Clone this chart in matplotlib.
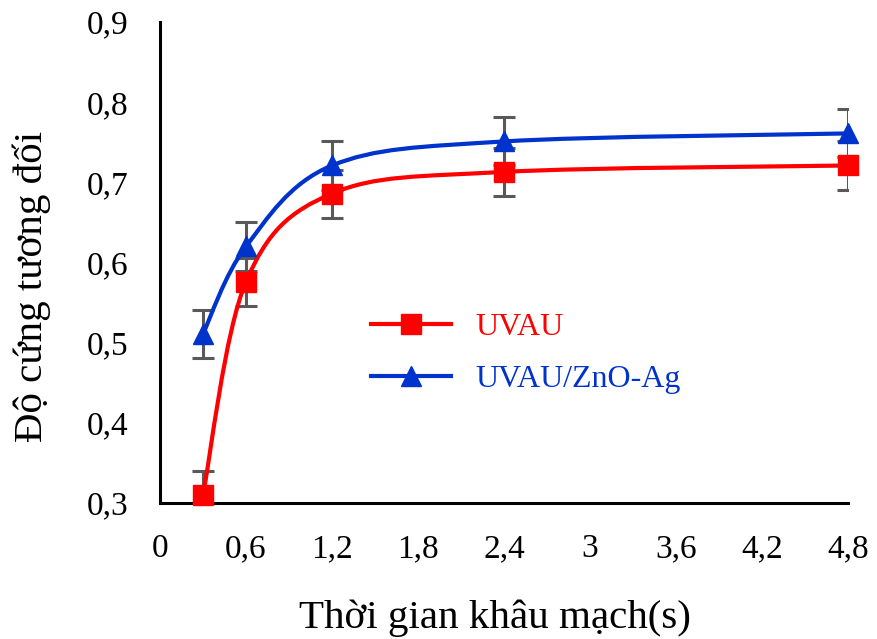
import matplotlib
matplotlib.use("Agg")
import matplotlib.pyplot as plt
from matplotlib.path import Path
from matplotlib.patches import PathPatch
from matplotlib.lines import Line2D
import numpy as np

plt.rcParams['font.family'] = ['Liberation Serif', 'DejaVu Serif']

# Crosslinking time (s) and relative hardness
time_s = [0.3, 0.6, 1.2, 2.4, 4.8]
hard_uvau = [0.31, 0.576, 0.686, 0.713, 0.721]
hard_zno = [0.511, 0.620, 0.721, 0.751, 0.761]
err_uvau = [0.03, 0.03, 0.03, 0.03, 0.03]
err_zno = [0.03, 0.03, 0.03, 0.03, 0.03]

series_names = ["UVAU", "UVAU/ZnO-Ag"]
x_ticks = [0, 0.6, 1.2, 1.8, 2.4, 3.0, 3.6, 4.2, 4.8]
x_tick_labels = ["0", "0,6", "1,2", "1,8", "2,4", "3", "3,6", "4,2", "4,8"]
y_ticks = [0.3, 0.4, 0.5, 0.6, 0.7, 0.8, 0.9]
y_tick_labels = ["0,3", "0,4", "0,5", "0,6", "0,7", "0,8", "0,9"]

RED = "#FF0000"
BLUE = "#0033CC"
ERR = "#595959"


def smooth_path(xs, ys):
    """Catmull-Rom style cubic Bezier path through the points."""
    pts = np.column_stack([xs, ys]).astype(float)
    n = len(pts)
    verts = [pts[0]]
    codes = [Path.MOVETO]
    for i in range(n - 1):
        p0 = pts[i - 1] if i > 0 else pts[i]
        p1 = pts[i]
        p2 = pts[i + 1]
        p3 = pts[i + 2] if i + 2 < n else pts[i + 1]
        c1 = p1 + (p2 - p0) / 6.0
        c2 = p2 - (p3 - p1) / 6.0
        verts += [c1, c2, p2]
        codes += [Path.CURVE4] * 3
    return Path(verts, codes)


fig = plt.figure(figsize=(8.77, 6.39), dpi=100)
ax = fig.add_axes([160 / 877, (639 - 503) / 639, (848 - 160) / 877, (503 - 22) / 639])

for ys, errs, color, marker, ms in [
    (hard_uvau, err_uvau, RED, "s", 14),
    (hard_zno, err_zno, BLUE, "^", 14),
]:
    ax.add_patch(PathPatch(smooth_path(time_s, ys), facecolor="none",
                           edgecolor=color, lw=3, zorder=3, capstyle="round"))
    ax.errorbar(time_s, ys, yerr=errs, fmt="none", ecolor=ERR, elinewidth=2.2,
                capsize=8, capthick=2.2, zorder=2)
    ax.plot(time_s, ys, linestyle="none", marker=marker, markersize=ms,
            color=color, markeredgecolor=color, zorder=4, clip_on=False)

ax.set_xlim(0, 4.8)
ax.set_ylim(0.3, 0.9)
ax.set_xticks(x_ticks)
ax.set_xticklabels(x_tick_labels)
ax.set_yticks(y_ticks)
ax.set_yticklabels(y_tick_labels)
ax.tick_params(axis="both", length=0, labelsize=24)
ax.tick_params(axis="x", pad=22)
ax.tick_params(axis="y", pad=23)

for side in ("top", "right"):
    ax.spines[side].set_visible(False)
for side in ("left", "bottom"):
    ax.spines[side].set_linewidth(2.2)
    ax.spines[side].set_color("black")

ax.set_xlabel("Thời gian khâu mạch(s)", fontsize=29.5)
ax.set_ylabel("Độ cứng tương đối", fontsize=29.5)
ax.xaxis.set_label_coords(0.487, -0.2)
ax.yaxis.set_label_coords(-0.158, 0.45)

handles = [
    Line2D([], [], color=RED, lw=3, marker="s", markersize=14),
    Line2D([], [], color=BLUE, lw=3, marker="^", markersize=14),
]
leg = ax.legend(handles, series_names, loc="upper left",
                bbox_to_anchor=(0.265, 0.455), frameon=False, fontsize=23,
                handlelength=2.5, handletextpad=0.75, labelspacing=0.7)
for txt, c in zip(leg.get_texts(), [RED, BLUE]):
    txt.set_color(c)

fig.savefig("out.png", dpi=100, facecolor="white")
